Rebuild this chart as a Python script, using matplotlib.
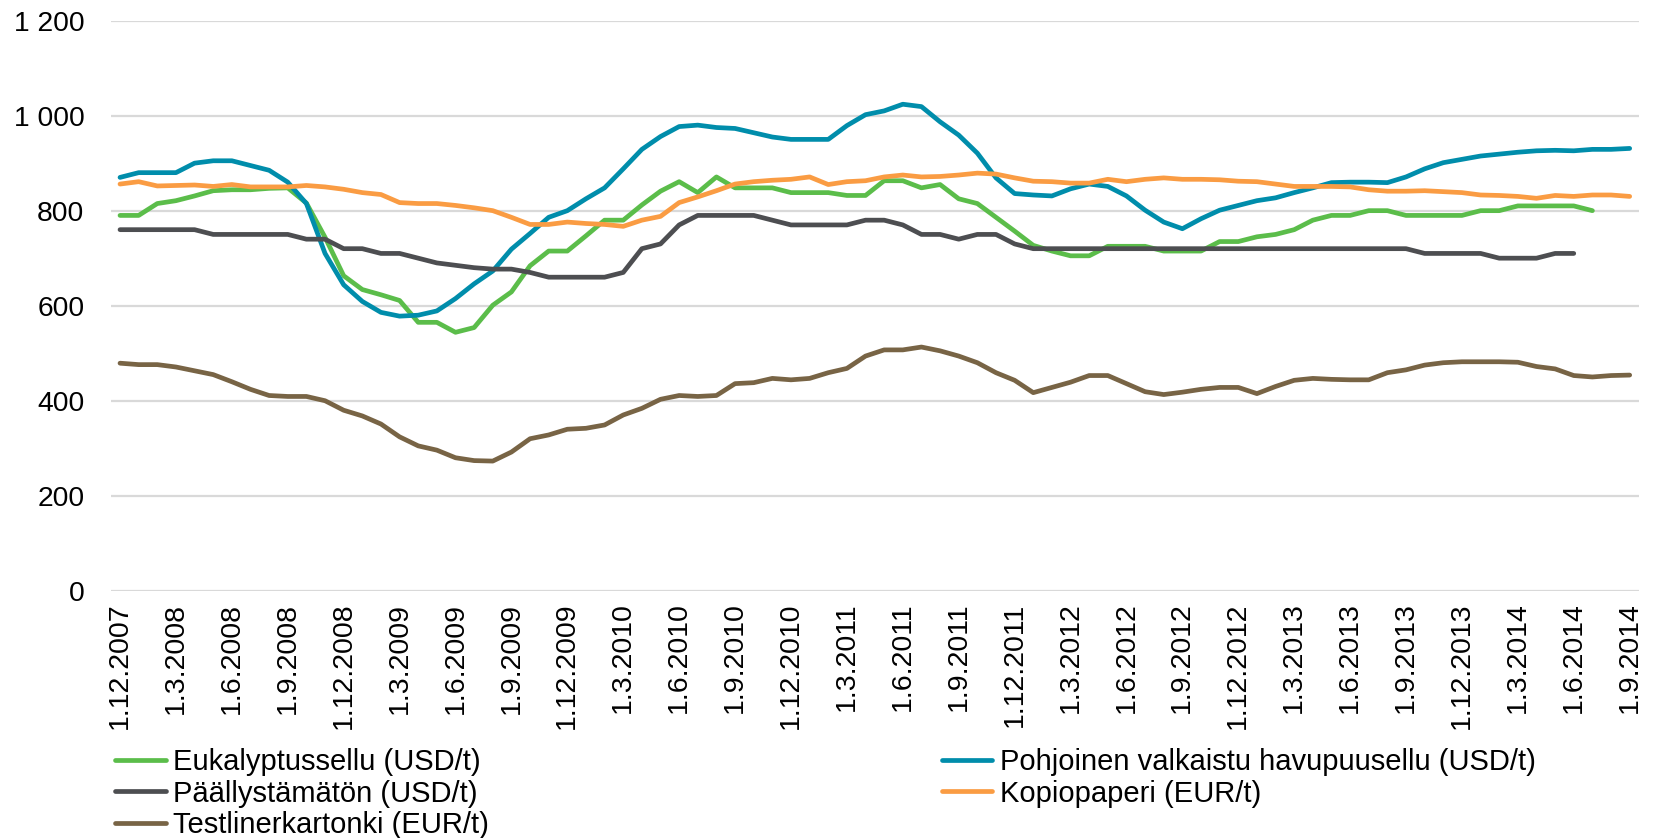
import numpy as np
import matplotlib
matplotlib.use("Agg")
import matplotlib.pyplot as plt
from matplotlib.ticker import FuncFormatter, FixedLocator

plt.rcParams['font.family'] = ['Liberation Sans', 'DejaVu Sans']

nan = np.nan

tick_labels = ["1.12.2007", "1.3.2008", "1.6.2008", "1.9.2008", "1.12.2008",
               "1.3.2009", "1.6.2009", "1.9.2009", "1.12.2009", "1.3.2010",
               "1.6.2010", "1.9.2010", "1.12.2010", "1.3.2011", "1.6.2011",
               "1.9.2011", "1.12.2011", "1.3.2012", "1.6.2012", "1.9.2012",
               "1.12.2012", "1.3.2013", "1.6.2013", "1.9.2013", "1.12.2013",
               "1.3.2014", "1.6.2014", "1.9.2014"]

eukalyptus = [790, 790, 815, 821, 831, 842, 844, 844, 847, 848, 816, 744, 663, 634, 623, 611,
              565, 565, 544, 554, 601, 629, 684, 715,
              715, 747, 780, 780, 812, 841, 861, 838, 871, 848, 848, 848, 838, 838, 838, 832,
              832, 863, 863, 848, 855, 825, 815, 786, 757, 727, 715, 705, 705,
              725, 725, 725, 715, 715, 715, 735, 735, 745, 750, 760, 780, 790, 790, 800, 800,
              790, 790, 790, 790, 800, 800, 810, 810, 810, 810, 800, nan, nan]

havupuu = [870, 880, 880, 880, 900, 905, 905, 895, 885, 860, 815, 710, 644, 609, 586, 578,
           580, 589, 615, 646, 673, 719, 752, 786,
           800, 825, 848, 888, 929, 956, 977, 980, 975, 973, 964, 955, 950, 950, 950, 979,
           1002, 1010, 1024, 1019, 987, 959, 921, 869, 836, 833, 831, 846, 856,
           851, 831, 801, 776, 762, 783, 801, 811, 821, 827, 838, 848, 859, 860, 860, 859,
           871, 888, 901, 908, 915, 919, 923, 926, 927, 926, 929, 929, 931]

paallystamaton = [760, 760, 760, 760, 760, 750, 750, 750, 750, 750, 740, 740, 720, 720, 710, 710,
                  700, 690, 685, 680, 677, 677, 670, 660,
                  660, 660, 660, 670, 720, 730, 770, 790, 790, 790, 790, 780, 770, 770, 770, 770,
                  780, 780, 770, 750, 750, 740, 750, 750, 730, 720, 720, 720, 720,
                  720, 720, 720, 720, 720, 720, 720, 720, 720, 720, 720, 720, 720, 720, 720, 720,
                  720, 710, 710, 710, 710, 700, 700, 700, 710, 710, nan, nan, nan]

kopiopaperi = [856, 861, 852, 853, 854, 851, 855, 850, 850, 850, 853, 850, 845, 838, 834, 817,
               815, 815, 811, 806, 800, 786, 771, 771,
               776, 773, 771, 767, 780, 788, 817, 829, 842, 856, 861, 864, 866, 871, 855, 861,
               863, 871, 875, 871, 872, 875, 879, 877, 869, 862, 861, 858, 858,
               866, 861, 866, 869, 866, 866, 865, 862, 861, 856, 851, 851, 851, 850, 844, 841,
               841, 842, 840, 838, 833, 832, 830, 826, 832, 830, 833, 833, 830]

testliner = [479, 476, 476, 471, 463, 455, 440, 424, 411, 409, 409, 400, 380, 368, 351, 324,
             305, 296, 280, 274, 273, 292, 320, 328,
             340, 342, 349, 370, 384, 403, 411, 409, 411, 436, 438, 447, 444, 447, 459, 468,
             494, 507, 507, 513, 505, 494, 480, 459, 443, 417, 428, 439, 453,
             453, 436, 419, 413, 418, 424, 428, 428, 415, 430, 443, 447, 445, 444, 444, 459,
             465, 475, 480, 482, 482, 482, 481, 472, 467, 453, 450, 453, 454]

series_names = ["Eukalyptussellu (USD/t)", "Pohjoinen valkaistu havupuusellu (USD/t)",
                "Päällystämätön (USD/t)", "Kopiopaperi (EUR/t)", "Testlinerkartonki (EUR/t)"]
series_values = [eukalyptus, havupuu, paallystamaton, kopiopaperi, testliner]
series_colors = ["#5BBD4A", "#008DAB", "#4D4E51", "#FA9C43", "#786445"]

W, H = 1653, 838
fig = plt.figure(figsize=(W / 100, H / 100), dpi=100)
left, right = 110.7 / W, 1639 / W
top, bottom = 1 - 20.6 / H, 1 - 590.8 / H
ax = fig.add_axes([left, bottom, right - left, top - bottom])

x = np.arange(len(havupuu))
lines = {}
for i, (name, vals, col) in enumerate(zip(series_names, series_values, series_colors)):
    ln, = ax.plot(x, np.array(vals, dtype=float), color=col, lw=3.4, label=name,
                  solid_capstyle='round', solid_joinstyle='round', zorder=3 + i)
    lines[name] = ln

ax.set_xlim(-0.5, len(havupuu) - 0.5)
ax.set_ylim(0, 1200)
ax.set_yticks(np.arange(0, 1201, 200))
ax.yaxis.set_major_formatter(FuncFormatter(lambda v, p: f"{int(v):,}".replace(",", "\u00a0")))
ax.xaxis.set_major_locator(FixedLocator(np.arange(0, len(havupuu), 3)))
ax.set_xticklabels(tick_labels, rotation=90, fontsize=20.5)
ax.tick_params(axis='y', length=0, pad=19, labelsize=20.3)
ax.tick_params(axis='x', length=0, pad=8.5)
ax.grid(axis='y', color='#D9D9D9', lw=1.6, zorder=0)
ax.set_axisbelow(True)
for s in ax.spines.values():
    s.set_visible(False)

order = [series_names[0], series_names[2], series_names[4], series_names[1], series_names[3]]
leg = fig.legend([lines[n] for n in order], order, loc='upper left',
                 bbox_to_anchor=(115.4 / W, 1 - 748 / H), ncol=2, frameon=False,
                 fontsize=21, handlelength=1.72, handletextpad=0.25, labelspacing=0.12,
                 columnspacing=15.55, borderpad=0, borderaxespad=0)
for t in leg.get_texts():
    t.set_color('black')

fig.savefig("out.png", dpi=100)
